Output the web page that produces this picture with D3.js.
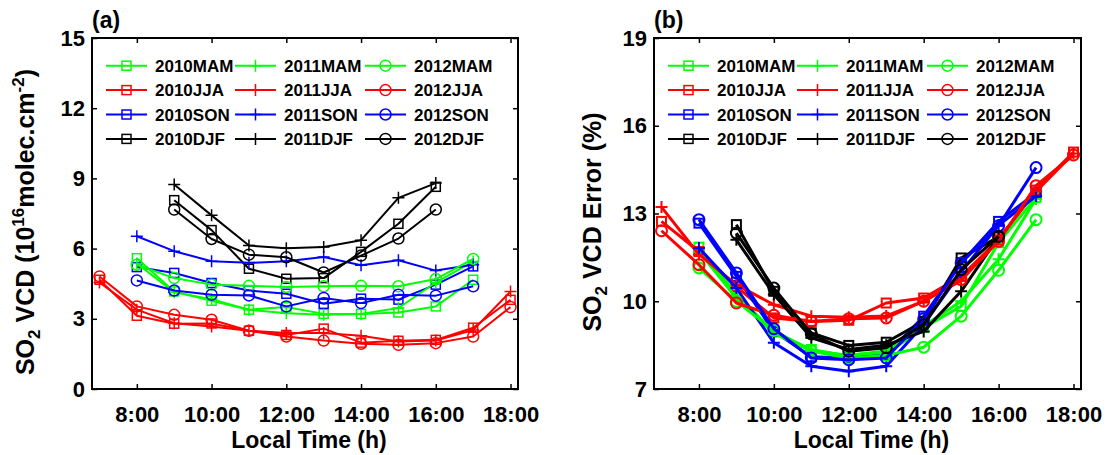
<!DOCTYPE html>
<html><head><meta charset="utf-8">
<script src="https://cdn.jsdelivr.net/npm/d3@7"></script>
<style>
body{margin:0;background:#fff}
svg{display:block}
text{font-family:"Liberation Sans",Arial,Helvetica,sans-serif;font-weight:bold;fill:#000}
</style>
</head><body>
<svg id="chart" width="1110" height="455"></svg>
<script>
// ---------- DATA ----------
const hoursMAM = [8, 9, 10, 11, 12, 13, 14, 15, 16, 17];
const hoursJJA = [7, 8, 9, 10, 11, 12, 13, 14, 15, 16, 17, 18];
const hoursSON = [8, 9, 10, 11, 12, 13, 14, 15, 16, 17];
const hoursDJF = [9, 10, 11, 12, 13, 14, 15, 16];

const xTicks = [8, 10, 12, 14, 16, 18];
const xTickLabels = ["8:00", "10:00", "12:00", "14:00", "16:00", "18:00"];
const yTicksA = [0, 3, 6, 9, 12, 15];
const yTicksB = [7, 10, 13, 16, 19];

const years = ["2010", "2011", "2012"];
const seasons = ["MAM", "JJA", "SON", "DJF"];

// Panel (a): SO2 VCD (10^16 molec/cm2)
const vcd2010MAM = [5.59, 4.17, 3.77, 3.39, 3.50, 3.21, 3.21, 3.27, 3.53, 4.67];
const vcd2011MAM = [5.36, 4.13, 3.84, 3.39, 3.24, 3.17, 3.21, 3.46, 4.55, 5.45];
const vcd2012MAM = [5.31, 4.74, 4.46, 4.41, 4.36, 4.39, 4.41, 4.39, 4.70, 5.56];
const vcd2010JJA = [4.67, 3.13, 2.79, 2.80, 2.49, 2.31, 2.58, 1.98, 2.06, 2.10, 2.62, 3.81];
const vcd2011JJA = [4.55, 3.39, 2.81, 2.67, 2.49, 2.39, 2.39, 2.28, 2.03, 2.07, 2.52, 4.17];
const vcd2012JJA = [4.81, 3.53, 3.17, 2.96, 2.49, 2.24, 2.07, 1.93, 1.89, 1.96, 2.24, 3.50];
const vcd2010SON = [5.21, 4.96, 4.53, 4.21, 4.07, 3.64, 3.86, 3.82, 4.46, 5.24];
const vcd2011SON = [6.53, 5.89, 5.46, 5.39, 5.46, 5.64, 5.29, 5.50, 5.06, 5.31];
const vcd2012SON = [4.64, 4.21, 4.03, 4.00, 3.53, 3.89, 3.67, 4.03, 3.99, 4.39];
const vcd2010DJF = [8.07, 6.79, 5.14, 4.71, 4.74, 5.86, 7.06, 8.64];
const vcd2011DJF = [8.74, 7.42, 6.13, 6.01, 6.07, 6.36, 8.17, 8.80];
const vcd2012DJF = [7.67, 6.41, 5.74, 5.63, 4.98, 5.70, 6.43, 7.67];

// Panel (b): SO2 VCD error (%)
const err2010MAM = [11.85, 10.23, 8.95, 8.35, 8.12, 8.20, 9.10, 9.83, 12.00, 13.55];
const err2011MAM = [11.70, 10.11, 8.90, 8.30, 8.15, 8.30, 9.15, 10.00, 11.44, 13.50];
const err2012MAM = [11.14, 10.00, 9.00, 8.30, 8.05, 8.15, 8.43, 9.49, 11.06, 12.79];
const err2010JJA = [12.73, 11.70, 10.50, 9.43, 9.31, 9.35, 9.94, 10.11, 10.85, 12.10, 13.80, 15.10];
const err2011JJA = [13.22, 11.60, 10.57, 9.88, 9.49, 9.45, 9.50, 10.00, 10.70, 12.15, 13.75, 15.05];
const err2012JJA = [12.41, 11.25, 9.94, 9.52, 9.31, 9.40, 9.43, 10.00, 10.74, 12.05, 13.95, 15.00];
const err2010SON = [12.67, 10.85, 8.97, 8.10, 8.06, 8.15, 9.49, 11.31, 12.73, 13.70];
const err2011SON = [11.82, 10.45, 8.58, 7.78, 7.61, 7.78, 9.20, 11.00, 12.60, 13.60];
const err2012SON = [12.79, 10.97, 9.06, 8.06, 8.00, 8.06, 9.40, 11.31, 12.58, 14.57];
const err2010DJF = [12.62, 10.34, 8.92, 8.49, 8.60, 9.31, 11.48, 12.20];
const err2011DJF = [12.10, 10.23, 8.75, 8.35, 8.50, 8.97, 10.34, 12.20];
const err2012DJF = [12.33, 10.45, 8.88, 8.29, 8.41, 9.20, 11.08, 12.22];

// ---------- STYLE / BUILD ----------
const hoursBySeason = {MAM: hoursMAM, JJA: hoursJJA, SON: hoursSON, DJF: hoursDJF};
const colorBySeason = {MAM: "#00ff00", JJA: "#ff0000", SON: "#0000ff", DJF: "#000000"};
const markerByYear = {"2010": "square", "2011": "plus", "2012": "circle"};

const vcdData = {
  "2010MAM": vcd2010MAM, "2011MAM": vcd2011MAM, "2012MAM": vcd2012MAM,
  "2010JJA": vcd2010JJA, "2011JJA": vcd2011JJA, "2012JJA": vcd2012JJA,
  "2010SON": vcd2010SON, "2011SON": vcd2011SON, "2012SON": vcd2012SON,
  "2010DJF": vcd2010DJF, "2011DJF": vcd2011DJF, "2012DJF": vcd2012DJF
};
const errData = {
  "2010MAM": err2010MAM, "2011MAM": err2011MAM, "2012MAM": err2012MAM,
  "2010JJA": err2010JJA, "2011JJA": err2011JJA, "2012JJA": err2012JJA,
  "2010SON": err2010SON, "2011SON": err2011SON, "2012SON": err2012SON,
  "2010DJF": err2010DJF, "2011DJF": err2011DJF, "2012DJF": err2012DJF
};

const svg = d3.select("#chart");

function drawMarker(g, type, cx, cy, color, sw) {
  if (type === "square") {
    g.append("rect").attr("x", cx - 4.5).attr("y", cy - 4.5).attr("width", 9).attr("height", 9)
      .attr("fill", "none").attr("stroke", color).attr("stroke-width", sw);
  } else if (type === "circle") {
    g.append("circle").attr("cx", cx).attr("cy", cy).attr("r", 5.5)
      .attr("fill", "none").attr("stroke", color).attr("stroke-width", sw);
  } else {
    g.append("path").attr("d", `M${cx-6},${cy}H${cx+6}M${cx},${cy-6}V${cy+6}`)
      .attr("fill", "none").attr("stroke", color).attr("stroke-width", sw);
  }
}

function drawPanel(cfg) {
  const g = svg.append("g");
  const x = d3.scaleLinear().domain([6.8, 18.2]).range([cfg.left, cfg.right]);
  const y = d3.scaleLinear().domain(cfg.yDomain).range([cfg.bottom, cfg.top]);

  // series
  const line = d3.line().x(d => x(d[0])).y(d => y(d[1]));
  const seriesG = g.append("g");
  years.forEach(yr => {
    seasons.forEach(se => {
      const key = yr + se;
      const pts = hoursBySeason[se].map((h, i) => [h, cfg.data[key][i]]);
      const col = colorBySeason[se];
      seriesG.append("path").datum(pts).attr("d", line)
        .attr("fill", "none").attr("stroke", col).attr("stroke-width", cfg.lineW)
        .attr("stroke-linejoin", "round");
      pts.forEach(p => drawMarker(seriesG, markerByYear[yr], x(p[0]), y(p[1]), col, cfg.markW));
    });
  });

  // axes
  const fs = "22px";
  const bx = g.append("g").attr("transform", `translate(0,${cfg.bottom})`)
    .call(d3.axisBottom(x).tickValues(xTicks).tickFormat((d, i) => xTickLabels[i]).tickSizeInner(-5).tickSizeOuter(0).tickPadding(17));
  const tx = g.append("g").attr("transform", `translate(0,${cfg.top})`)
    .call(d3.axisTop(x).tickValues(xTicks).tickFormat("").tickSizeInner(-5).tickSizeOuter(0));
  const ly = g.append("g").attr("transform", `translate(${cfg.left},0)`)
    .call(d3.axisLeft(y).tickValues(cfg.yTicks).tickSizeInner(-5).tickSizeOuter(0).tickPadding(7));
  const ry = g.append("g").attr("transform", `translate(${cfg.right},0)`)
    .call(d3.axisRight(y).tickValues(cfg.yTicks).tickFormat("").tickSizeInner(-5).tickSizeOuter(0));
  [bx, tx, ly, ry].forEach(a => {
    a.select(".domain").remove();
    a.selectAll(".tick line").attr("stroke", "#000").attr("stroke-width", 1.5);
    a.attr("font-size", fs).attr("font-family", null);
  });
  bx.selectAll("text").attr("font-size", fs);
  ly.selectAll("text").attr("font-size", fs);

  g.append("rect").attr("x", cfg.left).attr("y", cfg.top)
    .attr("width", cfg.right - cfg.left).attr("height", cfg.bottom - cfg.top)
    .attr("fill", "none").attr("stroke", "#000").attr("stroke-width", 2);

  // legend
  const lg = g.append("g");
  years.forEach((yr, ci) => {
    seasons.forEach((se, ri) => {
      const yy = cfg.legTop + ri * 24.4;
      const x0 = cfg.legX[ci], x1 = x0 + 41;
      const col = colorBySeason[se];
      lg.append("line").attr("x1", x0).attr("x2", x1).attr("y1", yy).attr("y2", yy)
        .attr("stroke", col).attr("stroke-width", 2);
      drawMarker(lg, markerByYear[yr], (x0 + x1) / 2, yy, col, 1.5);
      lg.append("text").attr("x", x1 + 8).attr("y", yy).attr("dy", "0.36em")
        .attr("font-size", "17px").text(yr + se);
    });
  });

  // panel label
  g.append("text").attr("x", cfg.left).attr("y", 28).attr("font-size", "23px").text(cfg.tag);

  // x label
  g.append("text").attr("x", (cfg.left + cfg.right) / 2 + 4).attr("y", 448)
    .attr("text-anchor", "middle").attr("font-size", "23px").text("Local Time (h)");

  // y label
  const yl = g.append("text").attr("transform", `translate(${cfg.yLabX},222) rotate(-90)`)
    .attr("text-anchor", "middle").attr("font-size", "25px");
  cfg.yLabel(yl);
}

drawPanel({
  left: 92, right: 518, top: 38, bottom: 389,
  yDomain: [0, 15], yTicks: yTicksA, data: vcdData,
  lineW: 2, markW: 1.5,
  legTop: 65.7, legX: [106, 235, 365],
  tag: "(a)", yLabX: 34,
  yLabel: t => {
    t.append("tspan").text("SO");
    t.append("tspan").attr("font-size", "17px").attr("dy", 6).text("2");
    t.append("tspan").attr("dy", -6).text(" VCD (10");
    t.append("tspan").attr("font-size", "17px").attr("dy", -10).text("16");
    t.append("tspan").attr("dy", 10).text("molec.cm");
    t.append("tspan").attr("font-size", "17px").attr("dy", -10).text("-2");
    t.append("tspan").attr("dy", 10).text(")");
  }
});

drawPanel({
  left: 654, right: 1081, top: 38, bottom: 389,
  yDomain: [7, 19], yTicks: yTicksB, data: errData,
  lineW: 3, markW: 2,
  legTop: 65.7, legX: [668, 797, 927],
  tag: "(b)", yLabX: 601,
  yLabel: t => {
    t.append("tspan").text("SO");
    t.append("tspan").attr("font-size", "17px").attr("dy", 6).text("2");
    t.append("tspan").attr("dy", -6).text(" VCD Error (%)");
  }
});
</script>
</body></html>
